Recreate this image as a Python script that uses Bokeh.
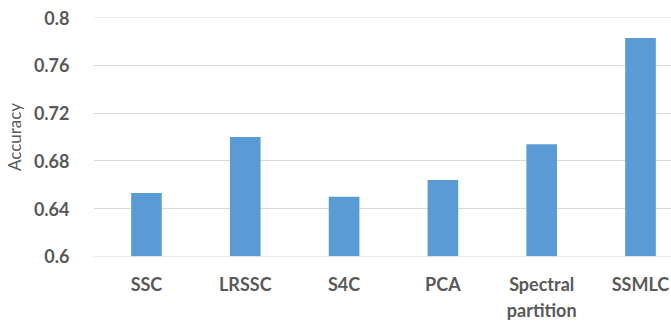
from bokeh.plotting import figure
from bokeh.models import Range1d, FixedTicker, NumeralTickFormatter, ColumnDataSource
from bokeh.embed import file_html
from bokeh.resources import INLINE

methods = ["SSC", "LRSSC", "S4C", "PCA", "Spectral\npartition", "SSMLC"]
accuracy = [0.653, 0.700, 0.650, 0.664, 0.694, 0.783]
y_ticks = [0.6, 0.64, 0.68, 0.72, 0.76, 0.8]

xs = list(range(len(methods)))
src = ColumnDataSource(dict(x=xs, top=accuracy, bottom=[y_ticks[0]] * len(xs)))

p = figure(frame_width=581, frame_height=239,
           min_border_left=90, min_border_right=0, min_border_top=17, min_border_bottom=66,
           output_backend="svg", toolbar_location=None,
           x_range=Range1d(-0.536, 5.344), y_range=Range1d(0.5998, 0.8002))

p.vbar(x="x", top="top", bottom="bottom", width=0.31, source=src,
       fill_color="#5b9bd5", line_color=None)

TXT = "#595959"
FONT = "Lato"

p.xaxis.ticker = FixedTicker(ticks=xs)
p.xaxis.major_label_overrides = {i: m for i, m in enumerate(methods)}
p.yaxis.ticker = FixedTicker(ticks=y_ticks)
p.yaxis.formatter = NumeralTickFormatter(format="0.[00]")

for ax in (p.xaxis[0], p.yaxis[0]):
    ax.axis_line_color = None
    ax.major_tick_line_color = None
    ax.minor_tick_line_color = None
    ax.major_label_text_color = TXT
    ax.major_label_text_font = FONT
    ax.major_label_text_font_style = "bold"

p.xaxis.major_label_text_font_size = "18px"
p.yaxis.major_label_text_font_size = "18px"
p.xaxis.major_label_standoff = 10
p.yaxis.major_label_standoff = 18
p.yaxis.axis_label = "Accuracy"
p.yaxis.axis_label_text_font = FONT
p.yaxis.axis_label_text_font_style = "normal"
p.yaxis.axis_label_text_font_size = "17px"
p.yaxis.axis_label_text_color = TXT
p.yaxis.axis_label_standoff = 6

p.xgrid.grid_line_color = None
p.ygrid.grid_line_color = "#d9d9d9"
p.ygrid.grid_line_width = 1
p.outline_line_color = None
p.background_fill_color = "white"
p.border_fill_color = "white"

open("out.html", "w").write(file_html(p, INLINE))
